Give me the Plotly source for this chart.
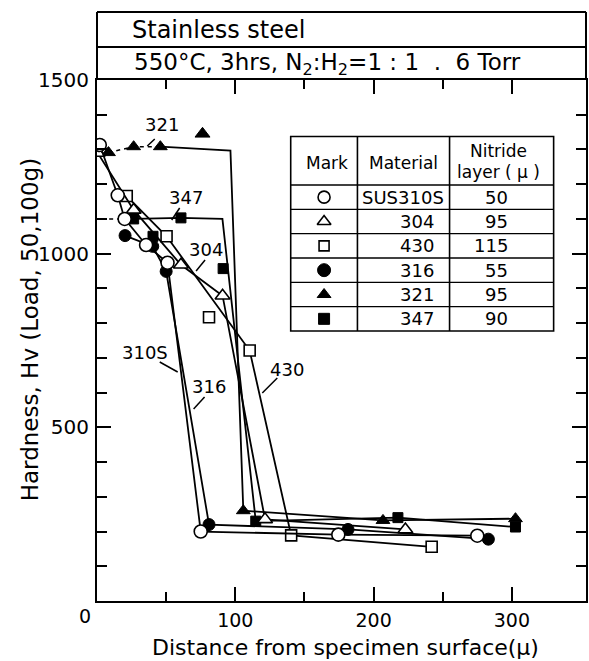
import plotly.graph_objects as go

# ---------------- data ----------------
materials = ["SUS310S", "304", "430", "316", "321", "347"]
nitride_layer = [50, 95, 115, 55, 95, 90]

# SUS310S  (open circles)
x_310s = [2, 15, 20, 35.5, 51, 75, 174.5, 275]
y_310s = [1313, 1168, 1100, 1025, 974, 200, 191, 188]

# 304 (open triangles)
x_304 = [0.5, 26.5, 60.7, 90.8, 121.5, 223]
y_304 = [1290, 1126, 968, 879, 235, 206]

# 430 (open squares)
x_430 = [21.5, 50.3, 110.4, 140.4, 242]
y_430 = [1166, 1050, 721, 189, 156]
x_430_extra = [81]
y_430_extra = [817]

# 316 (filled circles)
x_316 = [20.3, 40.3, 50, 81, 181.5, 283]
y_316 = [1052, 1021, 949, 220, 206, 178]

# 321 (filled triangles); corner point of the line has no mark
x_321 = [8.3, 26.5, 45.8, 96.5, 105.8, 206.8, 302.6]
y_321 = [1291, 1308, 1308, 1297, 260, 232, 237]
mark_321 = [1, 1, 1, 0, 1, 1, 1]
x_321_extra = [76.3]
y_321_extra = [1345]

# 347 (filled squares); corner point of the line has no mark
x_347 = [3, 26.5, 60.7, 90.7, 114.8, 217.6, 302.6]
y_347 = [1100, 1100, 1103, 1100, 230, 240, 213]
mark_347 = [0, 1, 1, 0, 1, 1, 1]
x_347_extra = [40.5, 91.2]
y_347_extra = [1050, 957]

x_ticks = [100, 200, 300]
x_minor = [50, 150, 250]
y_ticks = [500, 1000, 1500]

# ---------------- layout geometry ----------------
W, H = 589, 661
L, R, T, B = 97, 588, 80, 601
X_MAX = 353.6
Y_MAX = 1500
FONT = "DejaVu Sans"


def px(x):
    return (x - L) / (R - L)


def py(y):
    return (B - y) / (B - T)


def dx(x):
    return px(x) * X_MAX


def dy(y):
    return py(y) * Y_MAX


open_style = dict(color="white", line=dict(color="black", width=1.6))
fill_style = dict(color="black", line=dict(color="black", width=1))
LW = 1.8

fig = go.Figure()


def add_series(xs, ys, symbol, filled, size, marks=None, dash_upto=None):
    style = fill_style if filled else open_style
    start = 0
    if dash_upto is not None:
        fig.add_trace(go.Scatter(x=xs[:dash_upto + 1], y=ys[:dash_upto + 1], mode="lines",
                                 line=dict(color="black", width=LW - 0.3, dash="4px,4px"),
                                 showlegend=False, hoverinfo="skip"))
        start = dash_upto
    fig.add_trace(go.Scatter(x=xs[start:], y=ys[start:], mode="lines",
                             line=dict(color="black", width=LW),
                             showlegend=False, hoverinfo="skip"))
    if marks is None:
        marks = [1] * len(xs)
    mx = [x for x, m in zip(xs, marks) if m]
    my = [y for y, m in zip(ys, marks) if m]
    fig.add_trace(go.Scatter(x=mx, y=my, mode="markers",
                             marker=dict(symbol=symbol, size=size, **style),
                             showlegend=False))


def add_marks(xs, ys, symbol, filled, size):
    style = fill_style if filled else open_style
    fig.add_trace(go.Scatter(x=xs, y=ys, mode="markers",
                             marker=dict(symbol=symbol, size=size, **style),
                             showlegend=False))


add_series(x_316, y_316, "circle", True, 12)
add_series(x_347, y_347, "square", True, 10, marks=mark_347, dash_upto=1)
add_marks(x_347_extra, y_347_extra, "square", True, 10)
add_series(x_321, y_321, "triangle-up", True, 12, marks=mark_321, dash_upto=2)
add_marks(x_321_extra, y_321_extra, "triangle-up", True, 13)
add_series(x_430, y_430, "square", False, 11)
add_marks(x_430_extra, y_430_extra, "square", False, 11)
add_series(x_304, y_304, "triangle-up", False, 13)
add_series(x_310s, y_310s, "circle", False, 13)

# ---------------- legend table (paper coordinates via overlay axes) ----------------
tab_left, tab_right = 291.5, 555.5
tab_top, tab_bottom = 136.5, 331
col1, col2 = 358.5, 451
head_bottom = 185
row_h = (tab_bottom - head_bottom) / len(materials)
row_centers = [head_bottom + row_h * (i + 0.5) for i in range(len(materials))]

table_symbols = ["circle", "triangle-up", "square", "circle", "triangle-up", "square"]
table_filled = [False, False, False, True, True, True]
table_sizes = [12, 12, 10, 13, 12, 11]
for sym, fl, sz, rc in zip(table_symbols, table_filled, table_sizes, row_centers):
    style = fill_style if fl else open_style
    fig.add_trace(go.Scatter(x=[px(325)], y=[py(rc)], mode="markers", xaxis="x2", yaxis="y2",
                             marker=dict(symbol=sym, size=sz, **style),
                             showlegend=False, hoverinfo="skip"))

shapes = []
line_k = dict(color="black", width=1.6)
shapes.append(dict(type="rect", xref="paper", yref="paper", x0=px(tab_left), x1=px(tab_right),
                   y0=py(tab_bottom), y1=py(tab_top), line=line_k, fillcolor="white", layer="below"))
for xc in (col1, col2):
    shapes.append(dict(type="line", xref="paper", yref="paper", x0=px(xc), x1=px(xc),
                       y0=py(tab_bottom), y1=py(tab_top), line=line_k))
for i in range(len(materials)):
    yl = head_bottom + row_h * i
    shapes.append(dict(type="line", xref="paper", yref="paper", x0=px(tab_left), x1=px(tab_right),
                       y0=py(yl), y1=py(yl), line=dict(color="black", width=1.3)))

# header boxes above the plot
hdr_top, hdr_mid = 12, 47
hl = dict(color="black", width=2)
shapes += [
    dict(type="line", xref="paper", yref="paper", x0=0, x1=1, y0=py(hdr_top), y1=py(hdr_top), line=hl),
    dict(type="line", xref="paper", yref="paper", x0=0, x1=1, y0=py(hdr_mid), y1=py(hdr_mid), line=hl),
    dict(type="line", xref="paper", yref="paper", x0=0, x1=0, y0=1, y1=py(hdr_top), line=hl),
    dict(type="line", xref="paper", yref="paper", x0=1, x1=1, y0=1, y1=py(hdr_top), line=hl),
]

annotations = []


def text(x, y, s, size, xanchor="center", yanchor="middle", angle=0):
    annotations.append(dict(x=px(x), y=py(y), xref="paper", yref="paper", text=s, showarrow=False,
                            xanchor=xanchor, yanchor=yanchor, textangle=angle,
                            font=dict(family=FONT, size=size, color="black")))


text(130, 30, "Stainless steel", 24, xanchor="left")
text(132, 64, "550°C, 3hrs, N<sub>2</sub>:H<sub>2</sub>=1 : 1  .  6 Torr", 23, xanchor="left")

# table text
text(328, 163, "Mark", 17)
text(404.5, 163, "Material", 17)
text(500, 151, "Nitride", 17)
text(500, 172, "layer ( μ )", 17)
for m, n, rc in zip(materials, nitride_layer, row_centers):
    if m.startswith("SUS"):
        text(404.5, rc, m, 18)
    else:
        text(437, rc, m, 18, xanchor="right")
    text(512, rc, str(n), 18, xanchor="right")

# curve labels with leader lines
labels = [
    ("321", 162, 125, (147.5, 146, 155, 139)),
    ("347", 186, 198, (172, 220, 180, 208)),
    ("304", 206, 249, (196.5, 271, 205.5, 260)),
    ("310S", 145, 352, (160, 362, 178, 372)),
    ("316", 209, 386, (205, 397, 194, 409)),
    ("430", 288, 369, (278, 378, 263, 393)),
]
for s, lx, ly, (x0, y0, x1, y1) in labels:
    text(lx, ly, s, 18)
    shapes.append(dict(type="line", xref="x", yref="y", x0=dx(x0), y0=dy(y0), x1=dx(x1), y1=dy(y1),
                       line=dict(color="black", width=1.5)))

# axis titles and origin label
text(84.5, 616, "0", 19)
text(347, 647, "Distance from specimen surface(μ)", 22)
text(30, 330, "Hardness, Hv (Load, 50,100g)", 23, angle=-90)

fig.update_layout(
    width=W, height=H, autosize=False,
    margin=dict(l=L, r=W - R, t=T, b=H - B, pad=0),
    paper_bgcolor="white", plot_bgcolor="white",
    showlegend=False,
    font=dict(family=FONT, size=20, color="black"),
    xaxis=dict(range=[0, X_MAX], showgrid=False, zeroline=False, showline=True, linewidth=2,
               linecolor="black", mirror="ticks", ticks="inside", ticklen=14, tickwidth=1.6,
               tickcolor="black", tickmode="array", tickvals=x_ticks,
               ticktext=[str(v) for v in x_ticks], ticklabelstandoff=1,
               tickfont=dict(family=FONT, size=19, color="black"),
               minor=dict(tickmode="array", tickvals=x_minor, ticks="inside", ticklen=9,
                          tickwidth=1.5, tickcolor="black")),
    yaxis=dict(range=[0, Y_MAX], showgrid=False, zeroline=False, showline=True, linewidth=2,
               linecolor="black", mirror="ticks", ticks="inside", ticklen=14, tickwidth=1.6,
               tickcolor="black", tickmode="array", tickvals=y_ticks,
               ticktext=[str(v) for v in y_ticks], ticklabelstandoff=2,
               tickfont=dict(family=FONT, size=20, color="black"),
               minor=dict(dtick=100, tick0=0, ticks="inside", ticklen=10, tickwidth=1.5,
                          tickcolor="black")),
    xaxis2=dict(overlaying="x", range=[0, 1], visible=False, domain=[0, 1]),
    yaxis2=dict(overlaying="y", range=[0, 1], visible=False, domain=[0, 1]),
    shapes=shapes,
    annotations=annotations,
)

fig.write_html("out.html")
